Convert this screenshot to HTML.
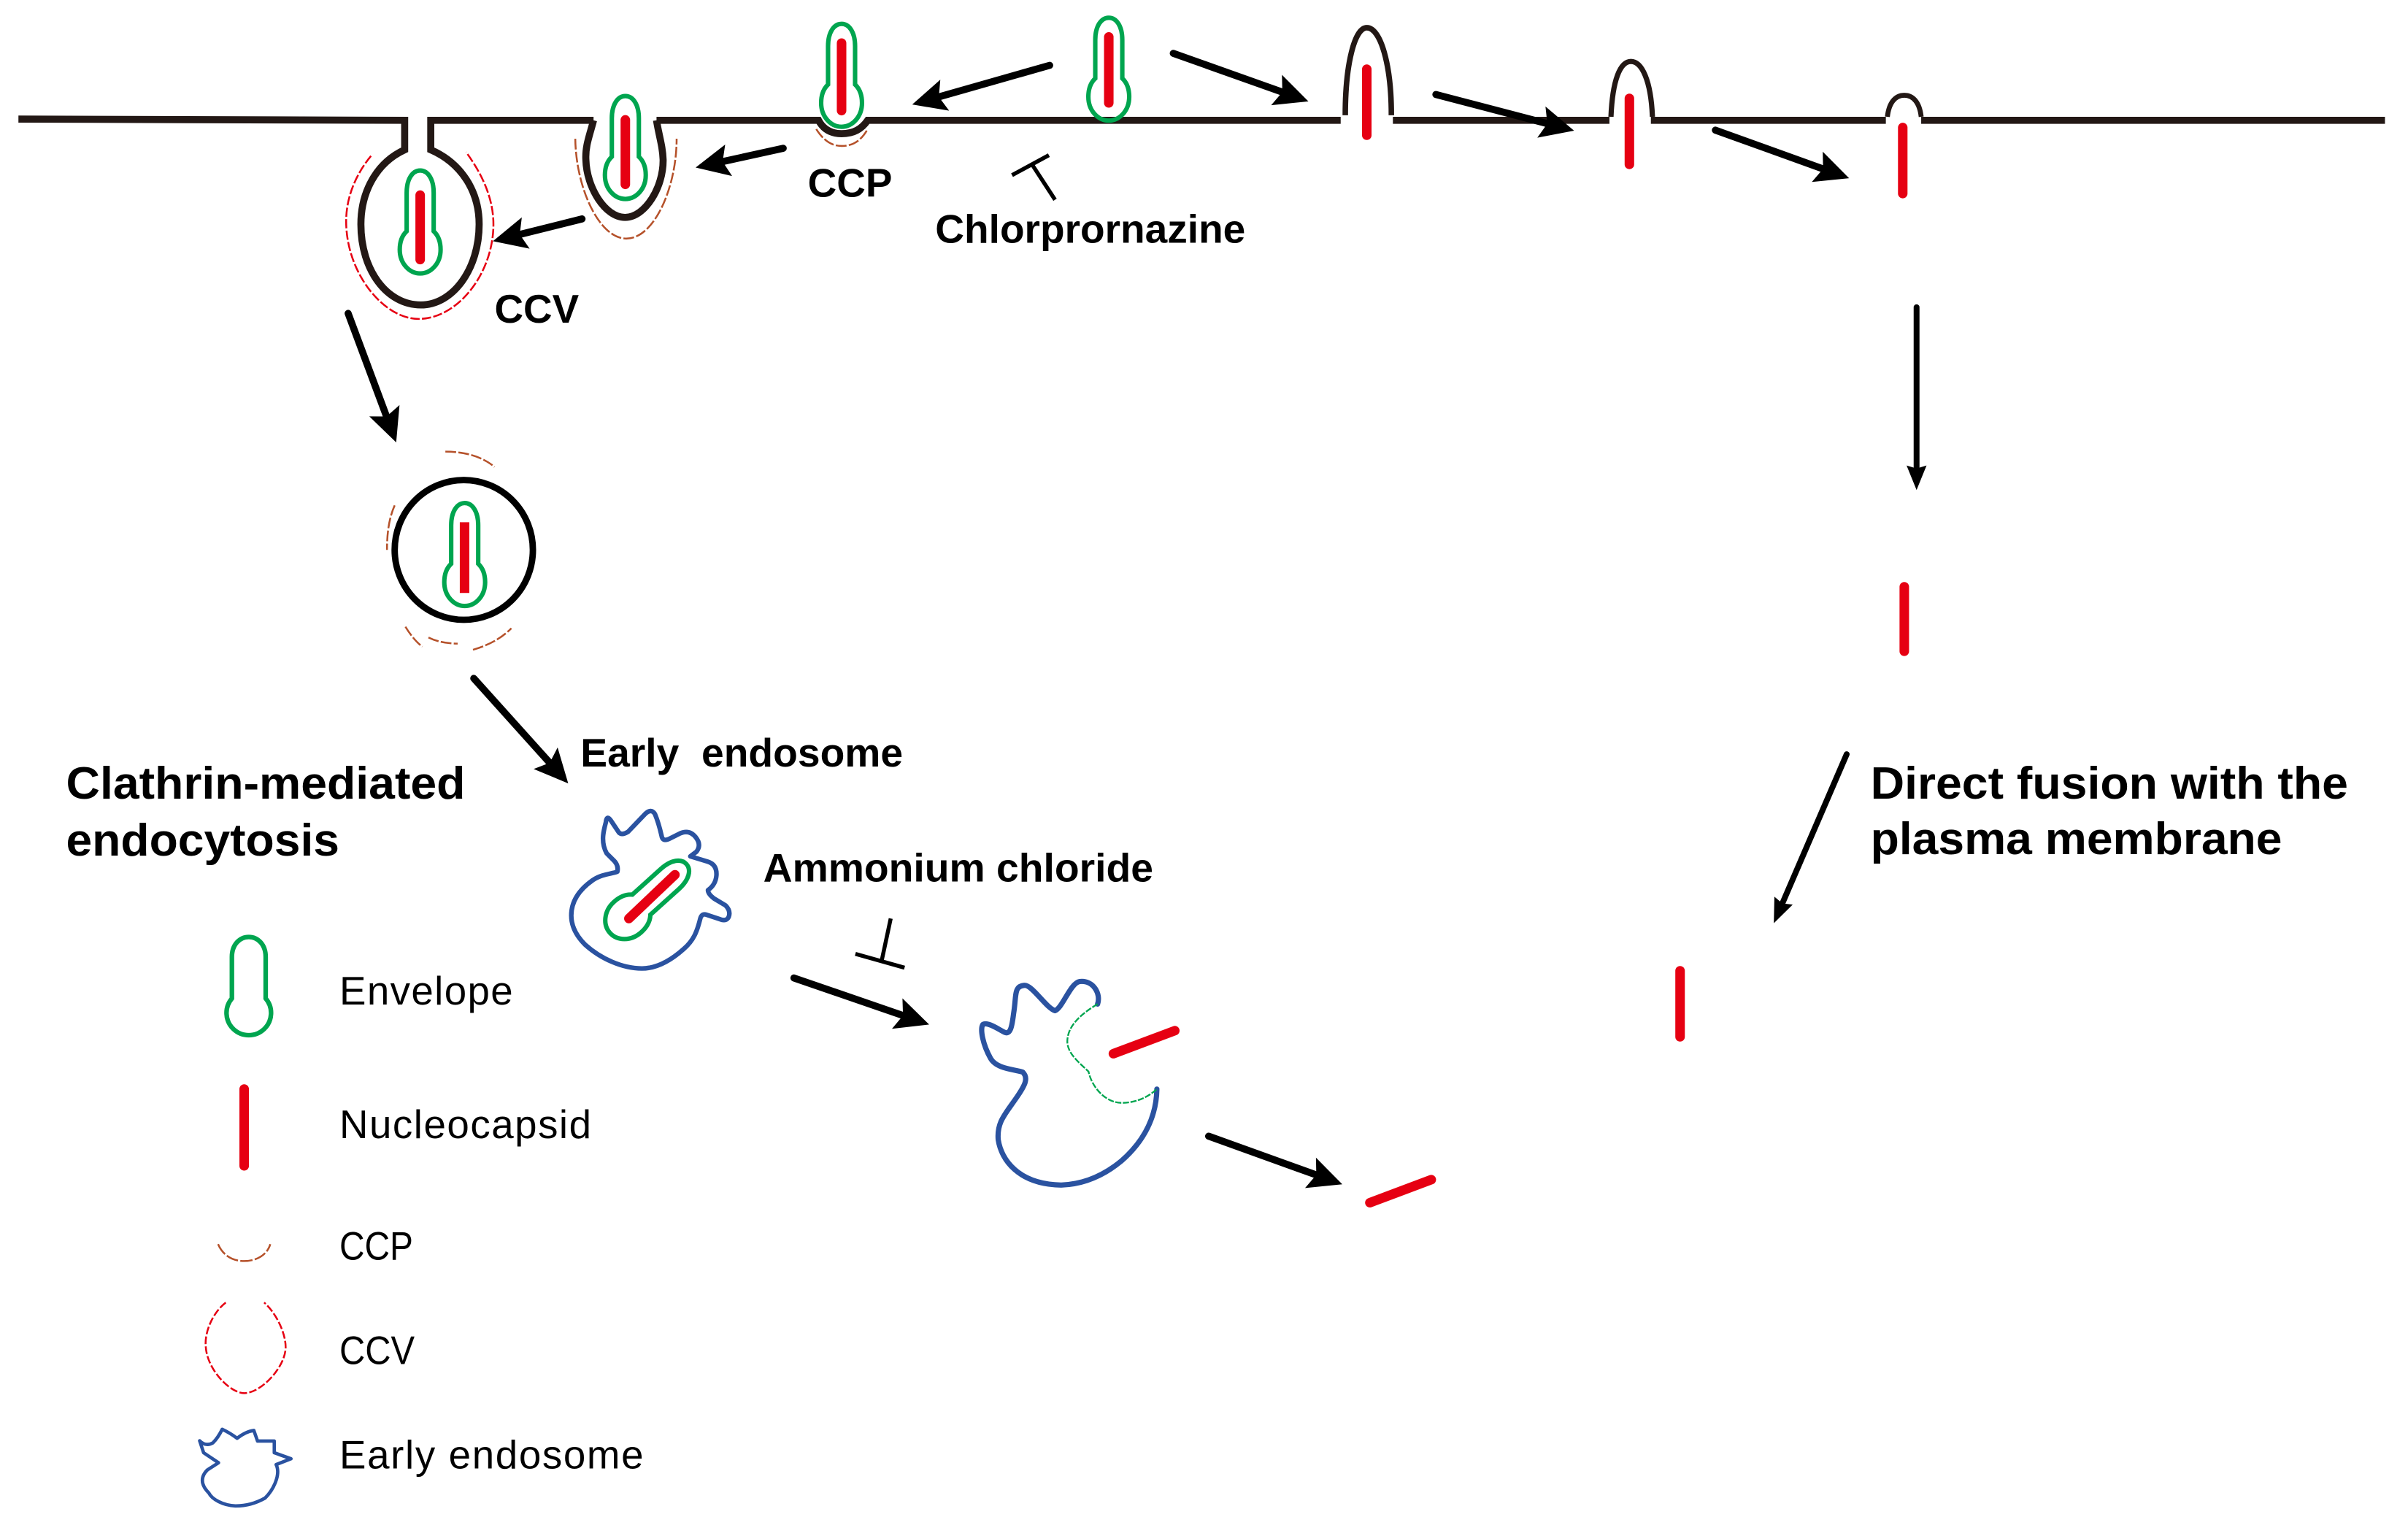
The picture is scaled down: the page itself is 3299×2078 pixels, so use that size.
<!DOCTYPE html>
<html lang="en">
<head>
<meta charset="utf-8">
<title>Clathrin-mediated endocytosis and direct fusion</title>
<style>
html,body{margin:0;padding:0;background:#fff;width:3299px;height:2078px;overflow:hidden}
svg{display:block}
text{font-family:"Liberation Sans",sans-serif;fill:#000}
.b{font-weight:bold}
.l{font-size:26px}
</style>
</head>
<body>
<svg xmlns="http://www.w3.org/2000/svg" width="3299" height="2078" viewBox="0 0 1568 987.6">
<defs>
<marker id="h" markerUnits="userSpaceOnUse" markerWidth="30" markerHeight="28" refX="6" refY="14" orient="auto" overflow="visible">
<path d="M0,3.5 L22,14 L0,24.5 L4,14 Z" fill="#000"/>
</marker>
<marker id="t" markerUnits="userSpaceOnUse" markerWidth="20" markerHeight="18" refX="4" refY="9" orient="auto" overflow="visible">
<path d="M0,2.5 L16,9 L0,15.5 L2,9 Z" fill="#000"/>
</marker>
<path id="env" d="M-11,-11 L-11,-38 C-11,-46 -6,-51 0,-51 C6,-51 11,-46 11,-38 L11,-11 A14.5,14.5 0 1 1 -11,-11 Z" fill="none" stroke="#00a54f" stroke-width="3"/>
<path id="env2" d="M-8.8,-12 L-8.8,-37 C-8.8,-46 -5,-51.5 0,-51.5 C5,-51.5 8.8,-46 8.8,-37 L8.8,-12 C12,-9 13.3,-5 13.3,0 C13.3,9 7,15.5 0,15.5 C-7,15.5 -13.3,9 -13.3,0 C-13.3,-5 -12,-9 -8.8,-12 Z" fill="none" stroke="#00a54f" stroke-width="2.9"/>
</defs>
<rect width="1568" height="988" fill="#fff"/>

<!-- membrane -->
<g fill="none" stroke="#231815" stroke-width="4.6" stroke-linejoin="miter">
<path d="M12,77.5 L263.5,78.3 L263.5,97.5 C245,106 235,125 235,146 C235,176 252,198.5 274,198.5 C295,198.5 312,175 312,146 C312,124 300,106 280.5,97.5 L280.5,78.3 L386.5,78.3"/>
<path d="M386.5,78.3 C384,88 381,95 381.5,104 C382,122 394,141.5 407,141.5 C420,141.5 432,122 431.8,104 C431.5,95 429,88 427.5,78.3"/>
<path d="M427.5,78.3 L533,78.3 C536,84 541,87 548,87 C556,87 561,84 565,78.3 L873,78.3"/>
<path d="M907,78.3 L1048,78.3"/>
<path d="M1075,78.3 L1228,78.3"/>
<path d="M1251,78.3 L1553,78.3"/>
<path d="M876,75 C876,42 882,18 890,18 C899,18 906,42 906,75" stroke-width="3.6"/>
<path d="M1049,76 C1050,52 1055,40 1062,40 C1069,40 1075,52 1076,76" stroke-width="3.4"/>
<path d="M1229,76 C1230,67 1234,62 1240,62 C1246,62 1250,67 1251,76" stroke-width="3.2"/>
<ellipse cx="302" cy="358" rx="45" ry="45.5" stroke="#000" stroke-width="4.2"/>
</g>

<!-- clathrin coats -->
<g fill="none" stroke="#e60012" stroke-width="1.2" stroke-dasharray="6 1.5">
<path d="M241.6,101.5 C232,113 225.4,128 225.4,144 C225.4,178 250,207.6 272.5,207.6 C298,207.6 321.3,178 321.3,146 C321.3,128 313,112 303.5,99"/>
<path d="M147,848 C138,855 133,868 134,877 C135,892 150,907 159,907 C170,907 186,890 186,877 C186,868 180,855 172,848" stroke-dasharray="5 1.5"/>
</g>
<g fill="none" stroke="#b5512a" stroke-width="1.2" stroke-dasharray="7 1.5">
<path d="M374.6,90.3 C375,122 390,155.3 407.9,155.3 C426,155.3 440.6,122 440.6,90.3"/>
<path d="M531.5,84 C536,91 541,95 548,95 C556,95 561,91 565,84"/>
<path d="M290,294 C302,294 314,297 322,304"/>
<path d="M257,329 C253,338 252,348 252,358"/>
<path d="M264,408 C267,413 271,418 275,421"/>
<path d="M279,415 C285,418 292,419 298,419"/>
<path d="M308,423 C318,420 326,416 333,409"/>
<path d="M142,810 C145,817 151,821 159,821 C167,821 174,817 176,810" stroke-dasharray="8 1.5"/>
</g>

<!-- envelopes -->
<use href="#env2" x="722" y="63"/>
<use href="#env2" x="548" y="67"/>
<use href="#env2" x="407.2" y="114"/>
<use href="#env2" x="273.6" y="162.5"/>
<use href="#env2" x="302.6" y="379"/>
<use href="#env" x="162" y="661"/>
<use href="#env2" transform="translate(408.7,597) rotate(48)"/>

<!-- nucleocapsids -->
<g stroke="#e60012" stroke-width="6.2" stroke-linecap="round" fill="none">
<path d="M722,24 V67"/>
<path d="M548,28 V72"/>
<path d="M407.2,78 V120"/>
<path d="M273.6,127 V169"/>
<path d="M302.5,340 V386" stroke-linecap="butt"/>
<path d="M890,45 V88"/>
<path d="M1061,64 V107"/>
<path d="M1239,83 V126"/>
<path d="M1240,382 V424"/>
<path d="M1094,632 V675"/>
<path d="M725,686 L765,671"/>
<path d="M892,783 L932,768"/>
<path d="M159,709 V759"/>
<path d="M409.5,598 L439.5,569.5"/>
</g>

<!-- arrows -->
<g stroke="#000" stroke-width="4.6" fill="none" stroke-linecap="round">
<line x1="683.5" y1="42.5" x2="609.4" y2="63.6" marker-end="url(#h)"/>
<line x1="764" y1="34.7" x2="836.9" y2="60.6" marker-end="url(#h)"/>
<line x1="935" y1="61.5" x2="1009.5" y2="81" marker-end="url(#h)"/>
<line x1="1117" y1="84.7" x2="1189" y2="110.6" marker-end="url(#h)"/>
<line x1="510" y1="96.5" x2="468.6" y2="105.6" marker-end="url(#h)"/>
<line x1="379" y1="142.5" x2="336.5" y2="153.1" marker-end="url(#h)"/>
<line x1="226.7" y1="204" x2="252.4" y2="273" marker-end="url(#h)"/>
<line x1="308.5" y1="441.6" x2="359.3" y2="498.1" marker-end="url(#h)"/>
<line x1="517" y1="636.7" x2="589.9" y2="661.8" marker-end="url(#h)"/>
<line x1="787" y1="739.7" x2="859" y2="765.6" marker-end="url(#h)"/>
</g>
<g stroke="#000" stroke-width="3.8" fill="none" stroke-linecap="round">
<line x1="1248" y1="200" x2="1248" y2="307" marker-end="url(#t)"/>
<line x1="1202.5" y1="491" x2="1159.8" y2="590" marker-end="url(#t)"/>
</g>

<!-- inhibitors -->
<g stroke="#000" stroke-width="2.6" fill="none">
<path d="M659,114 L683,101"/>
<path d="M672,107 L687,130"/>
<path d="M557,621 L589,630"/>
<path d="M580,598 L574,626"/>
</g>

<!-- early endosomes -->
<g fill="none" stroke="#2a52a0" stroke-linejoin="round" stroke-linecap="round">
<path stroke-width="3" d="M394.5,535.4 Q395,530 398,534.5 L403,542 Q405,544 409,541.5 L420,530 Q424,526 426.5,530 Q429,536 431,545 Q432,548 436,546 L443,542.5 Q449,540 453,545 Q457,550 453.5,554.5 L449.5,557.5 L461,561 Q467,563 466.5,570 Q466,576 461,579.5 Q461,582 465,585 L472.5,589.5 Q476,593 474.5,597 Q473,600 469,598.5 L460,595.5 Q457,594.5 456,598 C454,606 452,612 445,618 C436,626 427,630.5 418,630.5 C405,630.5 391,624 381,615 C375,609 372,603 372,596 C372,588 376,580 386,573 C392,569 398,569 402,567.5 Q403,563 399,559.5 L395,555.5 C391,548 393,541 394.5,535.4 Z"/>
<path stroke-width="3.4" d="M714.7,653.7 C717,647 712,638 703,639 C697,640 692,656 687,658 C681,656 672,641 667,641.5 C660,642 662,648 660,660 C659,668 658,674 654,672 C650,670 643,665 640,667 C638,670 640,680 645,689 C649,696 660,696 666,698 C670,702 667,707 663,713 C655,725 649,730 650,742 C652,755 663,771 691,771.5 C706,771 719,765 730,756 C745,743 753,727 753.3,709"/>
<path stroke-width="2.2" d="M130,938 Q134,942 138.6,939.4 Q142,936 144.7,930.5 Q150,933 154.4,936.4 Q160,932 165.3,931.3 L167.7,938.2 L178.6,938.2 L178.6,945.8 L189.5,949.7 L179.8,953.5 C183,960 178,970 172.6,975.3 C166,979 160,980.5 153.2,980.4 C145,980 138,976 136,972 C130,966 131,961 135,957 L142.3,952.3 L132.6,945.8 Z"/>
</g>
<path d="M714.7,653.7 C704,660 695,668 695,678 C695,686 703,692 708.8,697.6 C711,708 720,718 730.4,718 C740,718 748,714 753.3,709" fill="none" stroke="#00a54f" stroke-width="1.1" stroke-dasharray="4 1"/>

<!-- labels -->
<text class="b" x="526" y="128" font-size="26" textLength="55" lengthAdjust="spacingAndGlyphs">CCP</text>
<text class="b" x="609" y="158" font-size="26" textLength="202" lengthAdjust="spacingAndGlyphs">Chlorprornazine</text>
<text class="b" x="322" y="210" font-size="26" textLength="55" lengthAdjust="spacingAndGlyphs">CCV</text>
<text class="b" x="378" y="499" font-size="26" textLength="210" lengthAdjust="spacingAndGlyphs" xml:space="preserve">Early  endosome</text>
<text class="b" x="497" y="574" font-size="26" textLength="254" lengthAdjust="spacingAndGlyphs">Ammonium chloride</text>
<text class="b" x="43" y="520" font-size="29.5" textLength="260" lengthAdjust="spacingAndGlyphs">Clathrin-mediated</text>
<text class="b" x="43" y="557" font-size="29.5" textLength="178" lengthAdjust="spacingAndGlyphs">endocytosis</text>
<text class="b" x="1218" y="520" font-size="29.5" textLength="311" lengthAdjust="spacingAndGlyphs">Direct fusion with the</text>
<text class="b" x="1218" y="556" font-size="29.5" textLength="268" lengthAdjust="spacingAndGlyphs">plasma membrane</text>
<text class="l" x="221" y="654" textLength="113">Envelope</text>
<text class="l" x="221" y="741" textLength="164">Nucleocapsid</text>
<text class="l" x="221" y="820" textLength="48" lengthAdjust="spacingAndGlyphs">CCP</text>
<text class="l" x="221" y="888" textLength="49" lengthAdjust="spacingAndGlyphs">CCV</text>
<text class="l" x="221" y="956" textLength="198">Early endosome</text>
</svg>
</body>
</html>
